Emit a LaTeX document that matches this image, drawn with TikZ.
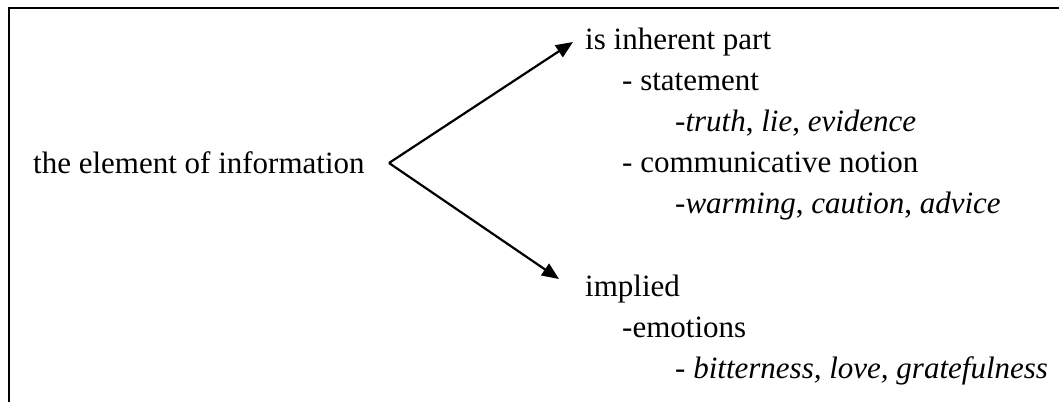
\documentclass[tikz,border=0pt]{standalone}
\usepackage{fontspec}
\setmainfont{Liberation Serif}[ItalicFont={Liberation Serif Italic}]
\usetikzlibrary{arrows.meta}
\begin{document}
\begin{tikzpicture}[x=1pt,y=-1pt,
  txt/.style={anchor=base west,inner sep=0pt,font=\fontsize{31}{37}\selectfont},
  frame/.style={line width=2.2pt},
  branch/.style={line width=2.2pt,-{Triangle[length=17pt,width=14pt]}}]
  \useasboundingbox (0,0) rectangle (1059,402);
  % open frame: top and left edges only
  \draw[frame] (9,402) -- (9,8) -- (1059,8);

  % source term
  \node[txt] (src) at (33,173) {the element of information};

  % first branch
  \node[txt] (inh)  at (585,49)  {is inherent part};
  \node[txt] (stm)  at (622,90)  {- statement};
  \node[txt] (stmx) at (675,131) {-\textit{truth}, \textit{lie}, \textit{evidence}};
  \node[txt] (com)  at (622,172) {- communicative notion};
  \node[txt] (comx) at (675,213) {-\textit{warming}, \textit{caution}, \textit{advice}};

  % second branch
  \node[txt] (imp)  at (585,296) {implied};
  \node[txt] (emo)  at (622,337) {-emotions};
  \node[txt] (emox) at (675,378) {\textit{- bitterness, love, gratefulness}};

  % fork
  \coordinate (v)  at (389,163);
  \coordinate (ta) at (573,42);
  \coordinate (tb) at (559,279);
  \draw[branch] (v) -- (ta);
  \draw[branch] (v) -- (tb);
\end{tikzpicture}
\end{document}
